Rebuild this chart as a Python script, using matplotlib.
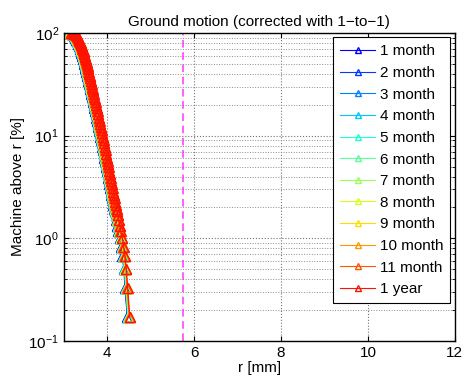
import matplotlib

matplotlib.use("Agg")
import matplotlib.pyplot as plt
import numpy as np

plt.rcParams["font.family"] = ["Liberation Sans", "DejaVu Sans"]
plt.rcParams["mathtext.fontset"] = "custom"
plt.rcParams["mathtext.rm"] = "Liberation Sans"
plt.rcParams["mathtext.it"] = "Liberation Sans:italic"

# series labels and small per-series shift of r (blue slightly left of red)
labels = ["1 month", "2 month", "3 month", "4 month", "5 month", "6 month",
          "7 month", "8 month", "9 month", "10 month", "11 month", "1 year"]
shift = [-0.06, -0.055, -0.05, -0.045, -0.04, -0.035,
         -0.03, -0.025, -0.02, -0.015, -0.008, 0.0]

# machine fraction above r [%] and r [mm] for the latest curve
pct = [100, 99.9, 99.8, 99.6, 99.4, 99, 98.5, 98, 97.3, 96.5, 95.5, 94.5,
       93, 91.5, 90, 88, 86, 84, 82, 80, 78, 76, 74, 72, 70, 68, 66, 64,
       62, 60, 58, 56, 54, 52, 50, 48, 46, 44, 42, 40, 38, 36, 34, 32,
       30, 28.5, 27, 25.5, 24, 22.5, 21, 19.8, 18.5, 17.3, 16.2, 15, 14,
       13, 12.1, 11.3, 10.5, 9.8, 9.1, 8.4, 7.8, 7.2, 6.6, 6.1, 5.7,
       5.3, 4.9, 4.5, 4.2, 3.9, 3.6, 3.35, 3.1, 2.85, 2.65, 2.45, 2.25,
       2.1, 1.95, 1.83, 1.67, 1.5, 1.33, 1.17, 1.0, 0.83, 0.67, 0.5,
       0.33, 0.17]
r = [3.17, 3.19, 3.205, 3.215, 3.225, 3.235, 3.245, 3.255, 3.265, 3.275,
     3.285, 3.295, 3.305, 3.315, 3.325, 3.34, 3.35, 3.36, 3.375, 3.385,
     3.395, 3.405, 3.415, 3.425, 3.435, 3.445, 3.455, 3.465, 3.475,
     3.485, 3.495, 3.505, 3.515, 3.525, 3.535, 3.545, 3.555, 3.565,
     3.575, 3.585, 3.60, 3.61, 3.625, 3.64, 3.655, 3.665, 3.68, 3.69,
     3.705, 3.72, 3.735, 3.75, 3.765, 3.78, 3.795, 3.81, 3.825, 3.84,
     3.855, 3.87, 3.885, 3.90, 3.915, 3.93, 3.945, 3.96, 3.975, 3.99,
     4.005, 4.02, 4.035, 4.05, 4.065, 4.08, 4.095, 4.11, 4.125, 4.14,
     4.155, 4.17, 4.185, 4.20, 4.215, 4.23, 4.25, 4.27, 4.29, 4.31, 4.35,
     4.38, 4.41, 4.44, 4.47, 4.52]

limit_r = 5.75

colors = plt.cm.jet(np.linspace(0.11, 0.89, len(labels)))

fig = plt.figure(figsize=(4.66, 3.82), dpi=100)
ax = fig.add_axes([0.137, 0.107, 0.839, 0.807])

for lab, dx, c in zip(labels, shift, colors):
    ax.semilogy(np.array(r) + dx, pct, "-^", color=c, lw=0.8, ms=6.5,
                mfc="none", mew=1.0, label=lab)

ax.axvline(limit_r, color="#ff33ff", ls="--", lw=1.1, dashes=(5, 3))

ax.set_xlim(3, 12)
ax.set_ylim(0.1, 100)
ax.set_xticks([4, 6, 8, 10, 12])
ax.grid(True, which="major", ls=":", color="0.45", lw=0.8)
ax.grid(True, which="minor", axis="y", ls=":", color="0.55", lw=0.7)
ax.tick_params(which="both", direction="in", top=True, right=True,
               labelsize=11)
for s in ax.spines.values():
    s.set_linewidth(1.0)

ax.set_xlabel("r [mm]", fontsize=11, labelpad=1)
ax.set_ylabel("Machine above r [%]", fontsize=11, labelpad=2)
ax.set_title("Ground motion (corrected with 1\u2212to\u22121)", fontsize=11, pad=5)

leg = ax.legend(loc="upper right", fontsize=11, labelspacing=0.5,
                handlelength=2.3, handletextpad=0.3, borderpad=0.45,
                borderaxespad=0.3, fancybox=False, framealpha=1,
                markerscale=0.75)
leg.get_frame().set_edgecolor("black")
leg.get_frame().set_linewidth(0.8)

fig.savefig("out.png", dpi=100)
